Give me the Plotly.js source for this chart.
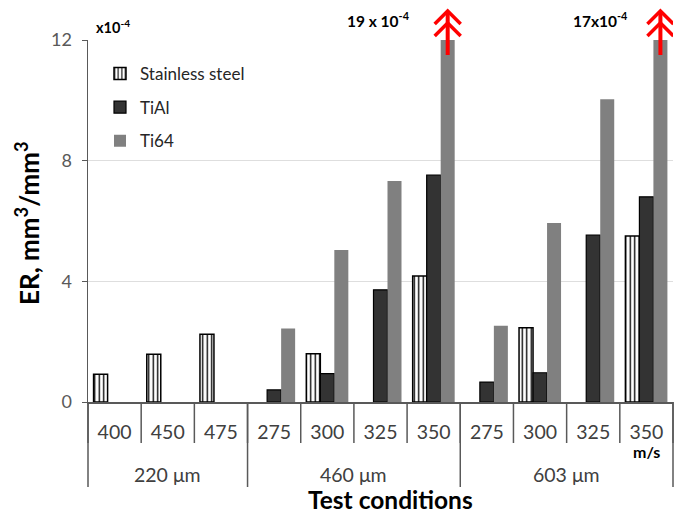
<!DOCTYPE html>
<html>
<head>
<meta charset="utf-8">
<script src="https://cdn.plot.ly/plotly-3.0.1.min.js"></script>
<style>html,body{margin:0;padding:0;background:#fff;}#chart{width:681px;height:515px;}</style>
</head>
<body>
<div id="chart"></div>
<script>
// ---- data ----
const speeds = ['400','450','475','275','300','325','350','275','300','325','350'];
const groups = ['220 μm','460 μm','603 μm'];
const groupSizes = [3, 4, 4];
const stainless = [0.92, 1.58, 2.25, null, 1.6, null, 4.18, null, 2.46, null, 5.5];
const tial      = [null, null, null, 0.4, 0.94, 3.72, 7.52, 0.66, 0.97, 5.53, 6.8];
const ti64      = [null, null, null, 2.44, 5.04, 7.33, 19, 2.53, 5.93, 10.04, 17];
const offScale  = [{idx: 6, label: '19 x 10<sup>-4</sup>'}, {idx: 10, label: '17x10<sup>-4</sup>'}];
const yTicks = [0, 4, 8, 12];

// ---- layout helpers ----
const W = 681, H = 515;
const M = {l: 88, r: 8, t: 40, b: 113};
const PW = W - M.l - M.r, PH = H - M.t - M.b;
const py = p => (H - M.b - p) / PH;          // pixel-y -> paper-y
const px = p => (p - M.l) / PW;              // pixel-x -> paper-x
const xs = speeds.map((_, i) => i);
const bargap = 0.21;
const bw = (1 - bargap) / 3;
const n = speeds.length;
const font = 'Lato, "Open Sans", sans-serif';

const traces = [
  {type: 'bar', name: 'Stainless steel', x: xs, y: stainless, legendgroup: 'a',
   marker: {color: 'white', line: {color: '#000', width: 1.5},
            pattern: {shape: '|', fgcolor: '#000', bgcolor: '#fff', size: 4.5, solidity: 0.3}}},
  {type: 'bar', name: 'TiAl', x: xs, y: tial, legendgroup: 'b',
   marker: {color: '#333333', line: {color: '#000', width: 1.2}}},
  {type: 'bar', name: 'Ti64', x: xs, y: ti64, legendgroup: 'c',
   marker: {color: '#808080', line: {width: 0}}}
];

const shapes = [];
// inner dividers
for (let i = 0; i <= n; i++) {
  shapes.push({type: 'line', xref: 'paper', yref: 'paper', x0: i / n, x1: i / n,
               y0: 0, y1: py(443), line: {color: '#595959', width: 1.5}});
}
// outer dividers
let acc = 0;
const bounds = [0];
groupSizes.forEach(s => { acc += s; bounds.push(acc); });
bounds.forEach(b => {
  shapes.push({type: 'line', xref: 'paper', yref: 'paper', x0: b / n, x1: b / n,
               y0: 0, y1: py(487), line: {color: '#595959', width: 1.5}});
});
// red double arrows for off-scale bars
const dx = 13 / (PW / n);
offScale.forEach(o => {
  const cx = o.idx + bw;
  shapes.push({type: 'line', xref: 'x', yref: 'paper', x0: cx, x1: cx, y0: py(55), y1: py(12),
               line: {color: '#ff0000', width: 4}});
  shapes.push({type: 'path', xref: 'x', yref: 'paper',
               path: `M ${cx - dx},${py(24)} L ${cx},${py(11)} L ${cx + dx},${py(24)}`,
               line: {color: '#ff0000', width: 3.5}});
  shapes.push({type: 'path', xref: 'x', yref: 'paper',
               path: `M ${cx - dx},${py(36)} L ${cx},${py(23)} L ${cx + dx},${py(36)}`,
               line: {color: '#ff0000', width: 3.5}});
});

const annotations = [];
const ann = (o) => annotations.push(Object.assign({showarrow: false, xanchor: 'center', yanchor: 'middle'}, o));
// group labels
let start = 0;
groups.forEach((g, k) => {
  const c = start + (groupSizes[k] - 1) / 2;
  ann({text: g, x: c, xref: 'x', y: py(474), yref: 'paper',
       font: {family: font, size: 19.5, color: '#404040'}});
  start += groupSizes[k];
});
ann({text: '<b>m/s</b>', x: n - 1, xref: 'x', y: py(451), yref: 'paper',
     font: {family: font, size: 16, color: '#000'}});
ann({text: '<b>x10<sup>-4</sup></b>', x: px(94), xref: 'paper', xanchor: 'left', y: py(27), yref: 'paper',
     font: {family: font, size: 14.5, color: '#000'}});
offScale.forEach((o, k) => {
  const xc = k === 0 ? px(378) : px(600);
  ann({text: '<b>' + o.label + '</b>', x: xc, xref: 'paper', y: py(20), yref: 'paper',
       font: {family: font, size: 15.5, color: '#000'}});
});
ann({text: '<b>ER, mm<sup>3</sup>/mm<sup>3</sup></b>', x: px(27), xref: 'paper', y: py(223), yref: 'paper',
     textangle: -90, font: {family: font, size: 26, color: '#000'}});
ann({text: '<b>Test conditions</b>', x: px(390), xref: 'paper', y: py(499), yref: 'paper',
     font: {family: font, size: 24.5, color: '#000'}});

const layout = {
  width: W, height: H,
  margin: M,
  paper_bgcolor: '#fff', plot_bgcolor: '#fff',
  barmode: 'group', bargap: bargap, bargroupgap: 0,
  showlegend: true,
  legend: {x: px(100), y: py(56), xanchor: 'left', yanchor: 'top', bgcolor: 'rgba(0,0,0,0)',
           tracegroupgap: 8.5, font: {family: font, size: 17, color: '#262626'}},
  xaxis: {range: [-0.5, n - 0.5], tickvals: xs, ticktext: speeds, ticks: '',
          showgrid: false, zeroline: false, showline: true, linecolor: '#595959', linewidth: 1.5,
          ticklabelstandoff: 12, tickfont: {family: font, size: 19.5, color: '#404040'}, fixedrange: true},
  yaxis: {range: [0, 12], tickvals: yTicks, ticks: 'outside', ticklen: 5, tickcolor: '#595959',
          showgrid: true, gridcolor: '#dedede', gridwidth: 1, zeroline: false,
          showline: true, linecolor: '#595959', linewidth: 1.5,
          tickfont: {family: font, size: 18, color: '#595959'}, ticklabelstandoff: 6},
  shapes: shapes,
  annotations: annotations
};

Plotly.newPlot('chart', traces, layout, {displayModeBar: false, staticPlot: true});
</script>
</body>
</html>
